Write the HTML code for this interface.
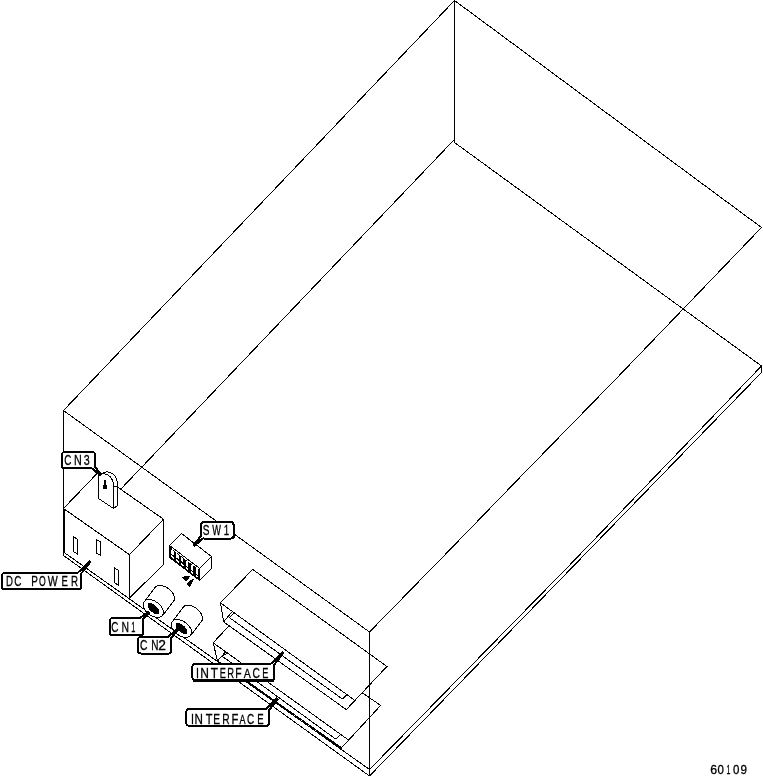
<!DOCTYPE html>
<html><head><meta charset="utf-8"><title>60109</title>
<style>
html,body{margin:0;padding:0;background:#fff;}
svg{display:block;}
text{font-family:"Liberation Sans",sans-serif;fill:#000;stroke:#000;stroke-width:.3px;}
svg{filter:grayscale(1);}
</style></head>
<body>
<svg width="763" height="782" viewBox="0 0 763 782">
<rect x="0" y="0" width="763" height="782" fill="#fff"/>
<g stroke="#000" stroke-width="1" fill="none" shape-rendering="crispEdges">
<line x1="454.5" y1="0.5" x2="761.5" y2="227.5" stroke-width="1"/>
<line x1="454.5" y1="0.5" x2="63.5" y2="410.5" stroke-width="1"/>
<line x1="454.5" y1="0.5" x2="454.5" y2="142.5" stroke-width="1"/>
<polyline points="761.5,227.5 615,379.9 520,477.3 450,549.6 369.5,632"/>
<line x1="369.5" y1="632" x2="63.5" y2="410.5" stroke-width="1"/>
<line x1="63.5" y1="410.5" x2="63.5" y2="555.5" stroke-width="1"/>
<line x1="369.5" y1="632" x2="369.5" y2="776" stroke-width="1"/>
<line x1="454.5" y1="142.5" x2="761.5" y2="366" stroke-width="1"/>
<line x1="453.7" y1="140.2" x2="120.3" y2="489.6" stroke-width="1"/>
<polyline points="761.5,366 565.4,569.5 369.5,769.5"/>
<line x1="761.5" y1="372.5" x2="369.5" y2="776" stroke-width="1"/>
<line x1="761.5" y1="366" x2="761.5" y2="372.5" stroke-width="1"/>
<line x1="369.5" y1="769.5" x2="63.5" y2="552" stroke-width="1"/>
<line x1="369.5" y1="776" x2="63.5" y2="555.5" stroke-width="1"/>
<line x1="64" y1="508.5" x2="64" y2="552.5" stroke-width="2"/>
<line x1="63.5" y1="508.5" x2="129.5" y2="554.7" stroke-width="1"/>
<line x1="129.5" y1="554.7" x2="163.5" y2="519.2" stroke-width="1"/>
<line x1="63.5" y1="508.5" x2="97.5" y2="473" stroke-width="1"/>
<line x1="97.5" y1="473" x2="163.5" y2="519.2" stroke-width="1"/>
<line x1="129.5" y1="554.7" x2="129.5" y2="598" stroke-width="1"/>
<line x1="163.5" y1="519.2" x2="163.5" y2="564.5" stroke-width="1"/>
<line x1="129.5" y1="598" x2="163.5" y2="564.5" stroke-width="1"/>
<path d="M73.5,536.5 L77.5,539.5 L77.5,554 L73.5,551.5 Z" fill="none"/>
<path d="M96.5,539.5 L100.5,542 L100.5,555.5 L96.5,553 Z" fill="none"/>
<path d="M114.5,568 L118.5,570.5 L118.5,585.5 L114.5,582.5 Z" fill="none"/>
<path d="M98.5,498.5 L98.5,478 C98.5,474.5 101.5,473.6 104.5,473.8 C109,474.5 113.5,478.5 113.5,485.5 L113.5,508.5 L117.5,505.5 L117.5,484.5 C117.5,478 114,473.6 110,472.4 C108,471.8 105,471.8 103,472.8 L98.5,476 L98.5,498.5 L113.5,508.5" fill="#fff"/>
<path d="M98.5,498.5 L98.5,478 C98.5,474.5 101.5,473.6 104.5,473.8 C109,474.5 113.5,478.5 113.5,485.5 L113.5,508.5 Z" fill="#fff"/>
<line x1="113.5" y1="487.3" x2="117.5" y2="486" stroke-width="1"/>
<line x1="105.2" y1="480" x2="105.2" y2="487" stroke-width="1.6"/>
<rect x="103.2" y="485.3" width="3.8" height="3.6" fill="#000" stroke="none"/>
<path d="M169.5,545.5 L181.5,533.5 L211.5,556.5 L199.5,568.3 Z M169.5,545.5 L169.5,557.5 L199.5,580.2 L199.5,568.3 M199.5,580.2 L211.5,568.7 L211.5,556.5" fill="#fff"/>
<path d="M169.5,545.5 L199.5,568.3 L199.5,580.2 L169.5,557.5 Z" fill="#000"/>
<path d="M170.9,549.2 l2.7,2 l0,4.2 l-2.7,-2 Z M171.2,555.2 l2.6,2 l0,1.8 l-2.6,-2 Z" fill="#fff" stroke="none"/>
<path d="M175.8,552.9 l2.7,2 l0,4.2 l-2.7,-2 Z M176.1,558.9 l2.6,2 l0,1.8 l-2.6,-2 Z" fill="#fff" stroke="none"/>
<path d="M180.7,556.6 l2.7,2 l0,4.2 l-2.7,-2 Z M181.0,562.6 l2.6,2 l0,1.8 l-2.6,-2 Z" fill="#fff" stroke="none"/>
<path d="M186.2,560.5 l2,1.5 l0,5.4 l-2,-1.5 Z M186.0,567.0 l2.4,1.8 l0,1.6 l-2.4,-1.8 Z" fill="#fff" stroke="none"/>
<path d="M191.1,564.3 l2,1.5 l0,5.4 l-2,-1.5 Z M190.9,570.8 l2.4,1.8 l0,1.6 l-2.4,-1.8 Z" fill="#fff" stroke="none"/>
<path d="M196.0,568.0 l2,1.5 l0,5.4 l-2,-1.5 Z M195.8,574.5 l2.4,1.8 l0,1.6 l-2.4,-1.8 Z" fill="#fff" stroke="none"/>
<path d="M172,548.6 L198.5,568.8" stroke="#fff" stroke-width="1"/>
<path d="M182.3,577.3 L189.8,576.2 L186,581.2 Z" fill="#000"/>
<path d="M187.3,583.5 L193.6,578.8 L189.7,586.6 Z" fill="#000"/>
<path d="M213.2,642.8 L228.9,625.9 L340,677.7 L380.7,705.4 L341.6,747.7 L217.5,661 Z" fill="#fff"/>
<line x1="213.2" y1="642.8" x2="348.2" y2="739.8" stroke-width="1"/>
<line x1="217.5" y1="661" x2="225.7" y2="651.8" stroke-width="1"/>
<line x1="222.4" y1="656.4" x2="227.4" y2="652.8" stroke-width="1"/>
<line x1="222.4" y1="656.4" x2="335.7" y2="739.1" stroke-width="1"/>
<line x1="335.7" y1="739.1" x2="340.5" y2="734.5" stroke-width="1"/>
<line x1="217.5" y1="660.8" x2="341.6" y2="747.7" stroke-width="1"/>
<line x1="240" y1="676.0" x2="341.6" y2="748.4" stroke-width="1"/>
<path d="M220.4,602.8 L252.7,569.4 L386.9,666.5 L346.3,709.6 L223.7,621.9 Z" fill="#fff"/>
<line x1="220.4" y1="602.8" x2="354.2" y2="699.9" stroke-width="1"/>
<line x1="223.7" y1="621.9" x2="232.2" y2="611.6" stroke-width="1"/>
<line x1="229.4" y1="617.6" x2="234.5" y2="612.6" stroke-width="1"/>
<line x1="229.4" y1="617.6" x2="342.4" y2="699" stroke-width="1"/>
<line x1="342.4" y1="699" x2="347.2" y2="694.5" stroke-width="1"/>
<line x1="369.5" y1="632" x2="369.5" y2="776" stroke-width="1"/>
<g shape-rendering="crispEdges">
<path d="M146.0,599.6 L155.8,586.4 A11.5 7.2 37 0 1 172.4,602.6 L162.6,615.8 Z" fill="#fff"/>
<ellipse cx="153.3" cy="608.5" rx="11.5" ry="7.2" transform="rotate(37 153.3 608.5)" fill="#fff"/>
<ellipse cx="153.5" cy="608.5" rx="6.7" ry="3.1" transform="rotate(43 153.3 608.5)" fill="#000"/>
</g>
<g shape-rendering="crispEdges">
<path d="M174.1,619.5 L183.9,606.3 A11.5 7.2 37 0 1 200.5,622.5 L190.7,635.7 Z" fill="#fff"/>
<ellipse cx="181.4" cy="628.4" rx="11.5" ry="7.2" transform="rotate(37 181.4 628.4)" fill="#fff"/>
<ellipse cx="181.6" cy="628.4" rx="6.7" ry="3.1" transform="rotate(43 181.4 628.4)" fill="#000"/>
</g>
</g>
<g stroke="#000" fill="none" shape-rendering="crispEdges">
<path d="M92.0,468.9 L100.0,476.0 L101.6,474.4 L95.0,466.1 Z" fill="#000" stroke-width="1"/>
<rect x="62" y="452" width="33.0" height="16.4" rx="2.5" ry="2.5" fill="#fff" stroke-width="2"/>
<path d="M91.3,466.6 L96.1,470.3 L92.7,465.2 Z" fill="#fff" stroke="none"/>
<text y="465" font-size="14"><tspan x="64.29" textLength="7.18" lengthAdjust="spacingAndGlyphs">C</tspan><tspan x="74.12" textLength="7.76" lengthAdjust="spacingAndGlyphs">N</tspan><tspan x="83.69" textLength="5.98" lengthAdjust="spacingAndGlyphs">3</tspan></text>
<path d="M80.7,574.9 L90.8,562.3 L89.2,560.9 L77.7,572.3 Z" fill="#000" stroke-width="1"/>
<rect x="2" y="573" width="79.0" height="16.0" rx="2.5" ry="2.5" fill="#fff" stroke-width="2"/>
<path d="M78.5,575.9 L83.1,569.3 L77.0,574.6 Z" fill="#fff" stroke="none"/>
<text y="586" font-size="14"><tspan x="6.01" textLength="6.95" lengthAdjust="spacingAndGlyphs">D</tspan><tspan x="14.19" textLength="7.18" lengthAdjust="spacingAndGlyphs">C</tspan> <tspan x="31.28" textLength="6.64" lengthAdjust="spacingAndGlyphs">P</tspan><tspan x="38.89" textLength="6.72" lengthAdjust="spacingAndGlyphs">O</tspan><tspan x="47.75" textLength="9.98" lengthAdjust="spacingAndGlyphs">W</tspan><tspan x="61.51" textLength="6.40" lengthAdjust="spacingAndGlyphs">E</tspan><tspan x="71.00" textLength="7.05" lengthAdjust="spacingAndGlyphs">R</tspan></text>
<path d="M142.8,620.3 L149.7,612.8 L148.3,611.2 L140.2,617.3 Z" fill="#000" stroke-width="1"/>
<rect x="110" y="618" width="33.0" height="17.0" rx="2.5" ry="2.5" fill="#fff" stroke-width="2"/>
<path d="M140.5,621.0 L144.2,616.4 L139.2,619.5 Z" fill="#fff" stroke="none"/>
<text y="631.8" font-size="14"><tspan x="111.29" textLength="7.18" lengthAdjust="spacingAndGlyphs">C</tspan><tspan x="121.45" textLength="7.50" lengthAdjust="spacingAndGlyphs">N</tspan><tspan x="131.13" textLength="4.13" lengthAdjust="spacingAndGlyphs">1</tspan></text>
<path d="M171.0,639.0 L178.1,630.4 L176.5,628.8 L168.2,636.2 Z" fill="#000" stroke-width="1"/>
<rect x="138" y="637" width="33.0" height="16.5" rx="2.5" ry="2.5" fill="#fff" stroke-width="2"/>
<path d="M168.8,639.9 L172.4,634.7 L167.4,638.5 Z" fill="#fff" stroke="none"/>
<text y="650" font-size="14"><tspan x="140.08" textLength="7.41" lengthAdjust="spacingAndGlyphs">C</tspan><tspan x="151.18" textLength="7.24" lengthAdjust="spacingAndGlyphs">N</tspan><tspan x="158.30" textLength="7.69" lengthAdjust="spacingAndGlyphs">2</tspan></text>
<path d="M200.6,535.8 L192.8,545.0 L194.4,546.6 L203.4,538.6 Z" fill="#000" stroke-width="1"/>
<rect x="201" y="522.3" width="32.6" height="16.2" rx="2.5" ry="2.5" fill="#fff" stroke-width="2"/>
<path d="M202.8,534.9 L199.0,540.3 L204.3,536.3 Z" fill="#fff" stroke="none"/>
<text y="535" font-size="14"><tspan x="202.74" textLength="6.72" lengthAdjust="spacingAndGlyphs">S</tspan><tspan x="212.36" textLength="8.67" lengthAdjust="spacingAndGlyphs">W</tspan><tspan x="223.76" textLength="5.42" lengthAdjust="spacingAndGlyphs">1</tspan></text>
<path d="M273.7,666.1 L283.8,653.3 L282.2,651.9 L270.7,663.5 Z" fill="#000" stroke-width="1"/>
<rect x="192.4" y="664" width="81.8" height="16.0" rx="2.5" ry="2.5" fill="#fff" stroke-width="2"/>
<path d="M271.5,667.1 L276.1,660.4 L270.0,665.8 Z" fill="#fff" stroke="none"/>
<text y="677.7" font-size="14"><tspan x="196.11" textLength="2.98" lengthAdjust="spacingAndGlyphs">I</tspan><tspan x="200.22" textLength="8.66" lengthAdjust="spacingAndGlyphs">N</tspan><tspan x="210.73" textLength="7.24" lengthAdjust="spacingAndGlyphs">T</tspan><tspan x="219.64" textLength="6.15" lengthAdjust="spacingAndGlyphs">E</tspan><tspan x="227.23" textLength="6.81" lengthAdjust="spacingAndGlyphs">R</tspan><tspan x="235.34" textLength="6.37" lengthAdjust="spacingAndGlyphs">F</tspan><tspan x="243.68" textLength="7.04" lengthAdjust="spacingAndGlyphs" font-size="12.6">A</tspan><tspan x="252.58" textLength="7.41" lengthAdjust="spacingAndGlyphs">C</tspan><tspan x="262.34" textLength="6.15" lengthAdjust="spacingAndGlyphs">E</tspan></text>
<line x1="193" y1="681.5" x2="274" y2="681.5" stroke-width="1"/>
<line x1="234.5" y1="524" x2="234.5" y2="537.5" stroke-width="1"/>
<path d="M268.9,711.0 L278.3,699.3 L276.7,697.9 L265.9,708.4 Z" fill="#000" stroke-width="1"/>
<rect x="186.4" y="708.8" width="82.4" height="16.9" rx="2.5" ry="2.5" fill="#fff" stroke-width="2"/>
<path d="M266.7,712.0 L271.0,705.7 L265.2,710.7 Z" fill="#fff" stroke="none"/>
<text y="723.8" font-size="14"><tspan x="190.91" textLength="2.98" lengthAdjust="spacingAndGlyphs">I</tspan><tspan x="194.55" textLength="8.40" lengthAdjust="spacingAndGlyphs">N</tspan><tspan x="205.65" textLength="6.70" lengthAdjust="spacingAndGlyphs">T</tspan><tspan x="213.37" textLength="6.77" lengthAdjust="spacingAndGlyphs">E</tspan><tspan x="222.16" textLength="7.42" lengthAdjust="spacingAndGlyphs">R</tspan><tspan x="231.58" textLength="6.87" lengthAdjust="spacingAndGlyphs">F</tspan><tspan x="239.58" textLength="6.04" lengthAdjust="spacingAndGlyphs" font-size="12.6">A</tspan><tspan x="246.99" textLength="7.18" lengthAdjust="spacingAndGlyphs">C</tspan><tspan x="257.21" textLength="6.40" lengthAdjust="spacingAndGlyphs">E</tspan></text>
<text y="774" font-size="12.5"><tspan x="710.17" textLength="6.87" lengthAdjust="spacingAndGlyphs">6</tspan><tspan x="717.55" textLength="6.40" lengthAdjust="spacingAndGlyphs">0</tspan><tspan x="726.47" textLength="3.87" lengthAdjust="spacingAndGlyphs">1</tspan><tspan x="733.05" textLength="6.40" lengthAdjust="spacingAndGlyphs">0</tspan><tspan x="740.45" textLength="6.50" lengthAdjust="spacingAndGlyphs">9</tspan></text>
</g>
</svg>
</body></html>
